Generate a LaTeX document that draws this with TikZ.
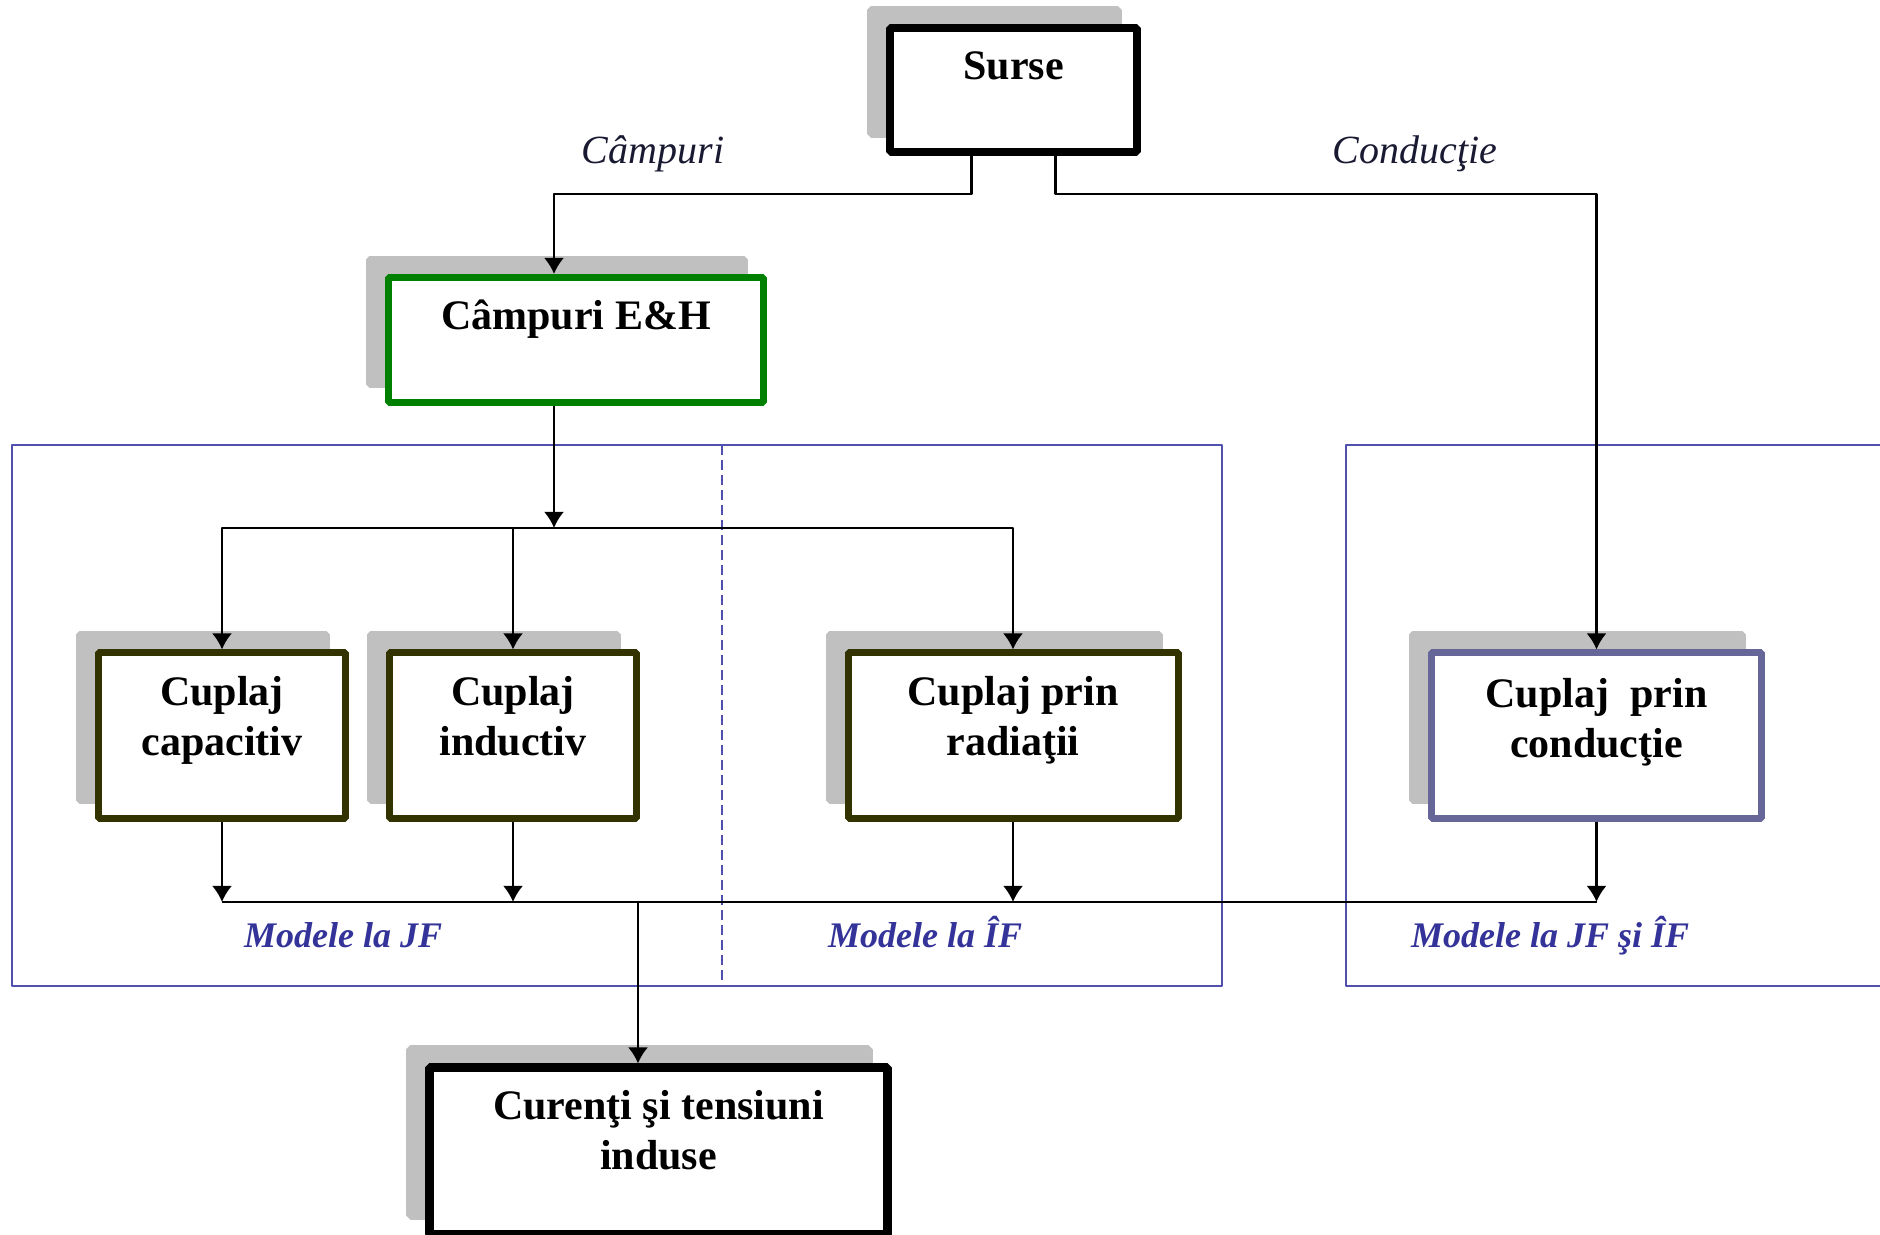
\documentclass[tikz,border=0pt]{standalone}
\usepackage{fontspec}
\setmainfont{Liberation Serif}
\usetikzlibrary{arrows.meta}

\definecolor{shadowgray}{RGB}{192,192,192}
\definecolor{fieldgreen}{RGB}{0,128,0}
\definecolor{coupleolive}{RGB}{51,51,0}
\definecolor{conductslate}{RGB}{102,102,153}
\definecolor{frameblue}{RGB}{80,80,175}
\definecolor{modelblue}{RGB}{51,51,153}
\definecolor{pathink}{RGB}{25,25,50}

\tikzset{
  box/.style={draw,fill=white,inner sep=0pt,line width=3.5bp,
    preaction={fill=shadowgray,draw=shadowgray,transform canvas={xshift=-9.5bp,yshift=9bp}}},
  boxtext/.style={anchor=base,align=center,inner sep=0pt,
    font=\fontsize{21bp}{25bp}\selectfont\bfseries},
  pathlabel/.style={anchor=base,inner sep=0pt,text=pathink,
    font=\fontsize{20bp}{24bp}\selectfont\itshape},
  modellabel/.style={anchor=base west,inner sep=0pt,text=modelblue,
    font=\fontsize{18bp}{21bp}\selectfont\bfseries\itshape},
  frame/.style={draw=frameblue,line width=0.8bp},
}

\begin{document}
\begin{tikzpicture}[>={Latex[length=8bp,width=10bp]},line join=bevel,line width=1.2bp,]
\useasboundingbox (0bp,0bp) rectangle (940bp,617.5bp);
%% model frames
\draw [frame] (6bp,395bp) rectangle (611bp,124.5bp);
\draw [frame,dash pattern=on 5bp off 2.5bp] (361bp,395bp) -- (361bp,124.5bp);
\draw [frame] (940bp,395bp) -- (673bp,395bp) -- (673bp,124.5bp) -- (940bp,124.5bp);
%% boxes
\node (surse) at (506.75bp,572.5bp) [box,line width=4bp,minimum width=123.5bp,minimum height=62bp] {};
  \node (surse_t) at ([yshift=-28bp]surse.north) [boxtext] {Surse};
\node (campuri) at (288bp,447.5bp) [box,draw=fieldgreen,minimum width=187.5bp,minimum height=62.5bp] {};
  \node (campuri_t) at ([yshift=-28bp]campuri.north) [boxtext] {Câmpuri E\&H};
\node (capacitiv) at (111bp,249.5bp) [box,draw=coupleolive,minimum width=123.5bp,minimum height=83bp] {};
  \node (capacitiv_t) at ([yshift=-53bp]capacitiv.north) [boxtext] {Cuplaj\\capacitiv};
\node (inductiv) at (256.5bp,249.5bp) [box,draw=coupleolive,minimum width=123.5bp,minimum height=83bp] {};
  \node (inductiv_t) at ([yshift=-53bp]inductiv.north) [boxtext] {Cuplaj\\inductiv};
\node (radiatii) at (506.5bp,249.5bp) [box,draw=coupleolive,minimum width=165bp,minimum height=83bp] {};
  \node (radiatii_t) at ([yshift=-53bp]radiatii.north) [boxtext] {Cuplaj prin\\radiaţii};
\node (conductie) at (798.25bp,249.5bp) [box,draw=conductslate,minimum width=165bp,minimum height=83bp] {};
  \node (conductie_t) at ([yshift=-54bp]conductie.north) [boxtext] {Cuplaj~ prin\\conducţie};
\node (curenti) at (329.25bp,42bp) [box,line width=4.5bp,minimum width=229bp,minimum height=83bp] {};
  \node (curenti_t) at ([yshift=-53bp]curenti.north) [boxtext] {Curenţi şi tensiuni\\induse};
%% labels
\node (campuri_l) at (326.5bp,535.5bp) [pathlabel] {Câmpuri};
\node (conductie_l) at (707.5bp,535.5bp) [pathlabel] {Conducţie};
\node (jf_l) at (121.5bp,143.5bp) [modellabel] {Modele la JF};
\node (if_l) at (413.5bp,143.5bp) [modellabel] {Modele la ÎF};
\node (jfif_l) at (705bp,143.5bp) [modellabel] {Modele la JF şi ÎF};
%% connectors
\coordinate (fieldbend) at (277bp,520.5bp);
\coordinate (condbend) at (798.25bp,520.5bp);
\coordinate (fieldsplit) at (277bp,353.5bp);
\coordinate (merge) at (319bp,166.5bp);
\draw [black,->] ([xshift=-21bp]surse.south) |- (fieldbend) -- ([xshift=-11bp]campuri.north);
\draw [black,->] ([xshift=21bp]surse.south) |- (condbend) -- (conductie.north);
\draw [black,->] ([xshift=-11bp]campuri.south) -- (fieldsplit);
\draw [black,->] (fieldsplit) -| (capacitiv.north);
\draw [black,->] (fieldsplit) -| (radiatii.north);
\draw [black,->] (inductiv.north |- fieldsplit) -- (inductiv.north);
\draw [black,->] (capacitiv.south) -- (capacitiv.south |- merge);
\draw [black,->] (inductiv.south) -- (inductiv.south |- merge);
\draw [black,->] (radiatii.south) -- (radiatii.south |- merge);
\draw [black,->] (conductie.south) -- (conductie.south |- merge);
\draw [black] (capacitiv.south |- merge) -- (conductie.south |- merge);
\draw [black,->] (merge) -- ([xshift=-10.25bp]curenti.north);
%
\end{tikzpicture}
\end{document}
